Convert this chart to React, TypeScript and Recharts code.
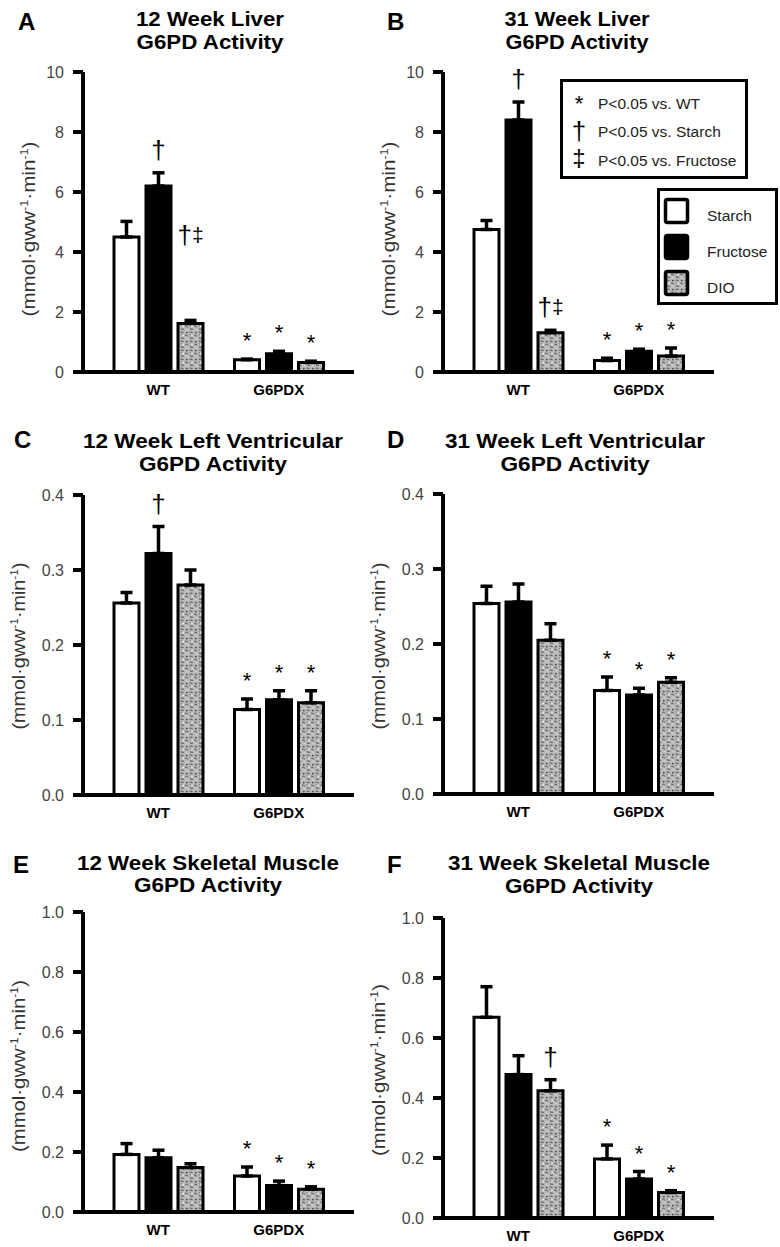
import React from 'react';
import { BarChart, Bar, XAxis, YAxis, ErrorBar, LabelList } from 'recharts';

const FONT = '"Liberation Sans", Arial, Helvetica, sans-serif';

const groups = ['WT', 'G6PDX'];
const seriesNames = ['Starch', 'Fructose', 'DIO'];

// A: 12 week liver
const liver12Starch = [4.5, 0.41];
const liver12StarchSem = [0.52, 0.02];
const liver12StarchSig = ['', '*'];
const liver12Fructose = [6.2, 0.61];
const liver12FructoseSem = [0.44, 0.08];
const liver12FructoseSig = ['†', '*'];
const liver12Dio = [1.62, 0.32];
const liver12DioSem = [0.1, 0.04];
const liver12DioSig = ['†‡', '*'];
const liver12DioSigAt = [3.8, null]; // this marker sits higher in the original

// B: 31 week liver
const liver31Starch = [4.75, 0.38];
const liver31StarchSem = [0.3, 0.08];
const liver31StarchSig = ['', '*'];
const liver31Fructose = [8.4, 0.69];
const liver31FructoseSem = [0.6, 0.07];
const liver31FructoseSig = ['†', '*'];
const liver31Dio = [1.31, 0.53];
const liver31DioSem = [0.08, 0.27];
const liver31DioSig = ['†‡', '*'];

// C: 12 week left ventricle
const lv12Starch = [0.256, 0.114];
const lv12StarchSem = [0.014, 0.014];
const lv12StarchSig = ['', '*'];
const lv12Fructose = [0.322, 0.127];
const lv12FructoseSem = [0.036, 0.012];
const lv12FructoseSig = ['†', '*'];
const lv12Dio = [0.28, 0.123];
const lv12DioSem = [0.02, 0.016];
const lv12DioSig = ['', '*'];

// D: 31 week left ventricle
const lv31Starch = [0.254, 0.138];
const lv31StarchSem = [0.023, 0.018];
const lv31Fructose = [0.256, 0.132];
const lv31FructoseSem = [0.024, 0.009];
const lv31Dio = [0.205, 0.149];
const lv31DioSem = [0.022, 0.006];
const lv31Sig = ['', '*'];

// E: 12 week skeletal muscle
const sk12Starch = [0.192, 0.12];
const sk12StarchSem = [0.036, 0.03];
const sk12Fructose = [0.181, 0.088];
const sk12FructoseSem = [0.025, 0.015];
const sk12Dio = [0.148, 0.076];
const sk12DioSem = [0.013, 0.008];
const sk12Sig = ['', '*'];

// F: 31 week skeletal muscle
const sk31Starch = [0.669, 0.197];
const sk31StarchSem = [0.102, 0.046];
const sk31StarchSig = ['', '*'];
const sk31Fructose = [0.478, 0.13];
const sk31FructoseSem = [0.063, 0.025];
const sk31FructoseSig = ['', '*'];
const sk31Dio = [0.424, 0.085];
const sk31DioSem = [0.037, 0.006];
const sk31DioSig = ['†', '*'];

const liverTicks = [0, 2, 4, 6, 8, 10];
const lvTicks = [0, 0.1, 0.2, 0.3, 0.4];
const skTicks = [0, 0.2, 0.4, 0.6, 0.8, 1.0];

const legendNotes = [
  { sym: '*', text: 'P<0.05 vs. WT' },
  { sym: '†', text: 'P<0.05 vs. Starch' },
  { sym: '‡', text: 'P<0.05 vs. Fructose' },
];

const panels = [
  {
    id: 'A', left: 0, top: 52, max: 10, ticks: liverTicks, digits: 0,
    starch: liver12Starch, starchSem: liver12StarchSem, starchSig: liver12StarchSig,
    fructose: liver12Fructose, fructoseSem: liver12FructoseSem, fructoseSig: liver12FructoseSig,
    dio: liver12Dio, dioSem: liver12DioSem, dioSig: liver12DioSig, dioAt: liver12DioSigAt,
    title: ['12 Week Liver', 'G6PD Activity'], lx: 18, ly: 30, cx: 210, ty: [26, 48.5], tw: [148, 147],
    labX: 29, labY: 229, labLen: 175,
  },
  {
    id: 'B', left: 360, top: 52, max: 10, ticks: liverTicks, digits: 0,
    starch: liver31Starch, starchSem: liver31StarchSem, starchSig: liver31StarchSig,
    fructose: liver31Fructose, fructoseSem: liver31FructoseSem, fructoseSig: liver31FructoseSig,
    dio: liver31Dio, dioSem: liver31DioSem, dioSig: liver31DioSig, dioAt: null,
    title: ['31 Week Liver', 'G6PD Activity'], lx: 387, ly: 30, cx: 577, ty: [26, 48.5], tw: [145, 143],
    labX: 389, labY: 229, labLen: 175,
  },
  {
    id: 'C', left: 0, top: 475, max: 0.4, ticks: lvTicks, digits: 1,
    starch: lv12Starch, starchSem: lv12StarchSem, starchSig: lv12StarchSig,
    fructose: lv12Fructose, fructoseSem: lv12FructoseSem, fructoseSig: lv12FructoseSig,
    dio: lv12Dio, dioSem: lv12DioSem, dioSig: lv12DioSig, dioAt: null,
    title: ['12 Week Left Ventricular', 'G6PD Activity'], lx: 14, ly: 448, cx: 213, ty: [448, 471], tw: [260, 148],
    labX: 19, labY: 646, labLen: 167,
  },
  {
    id: 'D', left: 360, top: 474, max: 0.4, ticks: lvTicks, digits: 1,
    starch: lv31Starch, starchSem: lv31StarchSem, starchSig: lv31Sig,
    fructose: lv31Fructose, fructoseSem: lv31FructoseSem, fructoseSig: lv31Sig,
    dio: lv31Dio, dioSem: lv31DioSem, dioSig: lv31Sig, dioAt: null,
    title: ['31 Week Left Ventricular', 'G6PD Activity'], lx: 387, ly: 448, cx: 575, ty: [448, 471], tw: [260, 149],
    labX: 379, labY: 646, labLen: 167,
  },
  {
    id: 'E', left: 0, top: 892, max: 1, ticks: skTicks, digits: 1,
    starch: sk12Starch, starchSem: sk12StarchSem, starchSig: sk12Sig,
    fructose: sk12Fructose, fructoseSem: sk12FructoseSem, fructoseSig: sk12Sig,
    dio: sk12Dio, dioSem: sk12DioSem, dioSig: sk12Sig, dioAt: null,
    title: ['12 Week Skeletal Muscle', 'G6PD Activity'], lx: 13, ly: 873, cx: 208, ty: [869.5, 892], tw: [262, 148],
    labX: 19, labY: 1066, labLen: 172,
  },
  {
    id: 'F', left: 360, top: 898, max: 1, ticks: skTicks, digits: 1,
    starch: sk31Starch, starchSem: sk31StarchSem, starchSig: sk31StarchSig,
    fructose: sk31Fructose, fructoseSem: sk31FructoseSem, fructoseSig: sk31FructoseSig,
    dio: sk31Dio, dioSem: sk31DioSem, dioSig: sk31DioSig, dioAt: null,
    title: ['31 Week Skeletal Muscle', 'G6PD Activity'], lx: 387, ly: 873, cx: 579, ty: [870, 893], tw: [262, 148],
    labX: 379, labY: 1070, labLen: 172,
  },
];

const rowOf = (d: any) => (d && d.payload) ? d.payload : d;

// significance marks sit above the error bar, positioned from the bar's own pixel box
const SigMark = (props: any) => {
  const vb = props.viewBox ?? props;
  if (!props.value) return null;
  const info = JSON.parse(props.value);
  if (!info.s) return null;
  const { x, y, width, height } = vb;
  const perUnit = height / info.m;
  const top = info.at != null ? y - (info.at - info.m) * perUnit : y - info.e * perUnit;
  const cx = x + width / 2;
  if (info.s === '*') {
    return <text x={cx} y={top - 11} textAnchor="middle" fontSize={22} fontFamily={FONT} fill="#000">*</text>;
  }
  if (info.s === '†') {
    return <text x={cx} y={top - 14} textAnchor="middle" fontSize={26} fontFamily={FONT} fill="#000">†</text>;
  }
  return (
    <text x={cx} y={top - 14} textAnchor="middle" fontFamily={FONT} fill="#000">
      <tspan fontSize={26}>†</tspan>
      <tspan fontSize={21} dy={-2}>‡</tspan>
    </text>
  );
};

const sigKey = (key: string) => (d: any) => {
  const r = rowOf(d);
  return JSON.stringify({ m: r[key], e: r[key + 'Sem'], s: r[key + 'Sig'], at: r[key + 'At'] ?? null });
};
const errKey = (key: string) => (d: any) => [0, rowOf(d)[key + 'Sem']];

const G6pdPanel = ({ p }: { p: any }) => {
  const rows = groups.map((g, i) => ({
    group: g,
    starch: p.starch[i], starchSem: p.starchSem[i], starchSig: p.starchSig[i],
    fructose: p.fructose[i], fructoseSem: p.fructoseSem[i], fructoseSig: p.fructoseSig[i],
    dio: p.dio[i], dioSem: p.dioSem[i], dioSig: p.dioSig[i], dioAt: p.dioAt ? p.dioAt[i] : null,
  }));

  const fills: Record<string, string> = { starch: '#ffffff', fructose: '#000000', dio: 'url(#dioTexture)' };

  return (
    <div style={{ position: 'absolute', left: p.left, top: p.top }}>
      <BarChart width={360} height={360} data={rows} margin={{ top: 20, right: 6, bottom: 0, left: 0 }} barSize={25} barGap={7}>
        <XAxis
          dataKey="group"
          padding={{ left: 15, right: 15 }}
          axisLine={{ stroke: '#000', strokeWidth: 4 }}
          tickLine={false}
          tickSize={0}
          tickMargin={12}
          height={40}
          tick={{ fill: '#000', fontSize: 15, fontWeight: 'bold', fontFamily: FONT }}
        />
        <YAxis
          type="number"
          domain={[0, p.max]}
          ticks={p.ticks}
          interval={0}
          width={83}
          tickSize={10}
          tickMargin={9}
          axisLine={{ stroke: '#000', strokeWidth: 4 }}
          tickLine={{ stroke: '#000', strokeWidth: 4 }}
          tick={{ fill: '#444', fontSize: 16, fontFamily: FONT }}
          tickFormatter={(v: number) => v.toFixed(p.digits)}
        />
        {['starch', 'fructose', 'dio'].map((k, i) => (
          <Bar key={k} dataKey={k} name={seriesNames[i]} fill={fills[k]} stroke="#000" strokeWidth={3} isAnimationActive={false}>
            <ErrorBar dataKey={errKey(k)} direction="y" width={6} stroke="#000" strokeWidth={3.5} isAnimationActive={false} />
            <LabelList dataKey={sigKey(k)} content={SigMark} />
          </Bar>
        ))}
      </BarChart>
    </div>
  );
};

const Overlay = () => (
  <svg width={780} height={1247} style={{ position: 'absolute', left: 0, top: 0, pointerEvents: 'none' }} fontFamily={FONT}>
    {panels.map((p) => (
      <g key={p.id}>
        <text x={p.lx} y={p.ly} fontSize={24} fontWeight="bold" fill="#000">{p.id}</text>
        {p.title.map((t: string, i: number) => (
          <text key={i} x={p.cx} y={p.ty[i]} textAnchor="middle" fontSize={21} fontWeight="bold" fill="#000"
            textLength={p.tw[i]} lengthAdjust="spacingAndGlyphs">{t}</text>
        ))}
        <text transform={`translate(${p.labX},${p.labY}) rotate(-90)`} x={0} y={6} textAnchor="middle" fontSize={18} fill="#333"
          textLength={p.labLen} lengthAdjust="spacingAndGlyphs">
          <tspan>(mmol·gww</tspan>
          <tspan fontSize={11} dy={-7}>-1</tspan>
          <tspan dy={7}>·min</tspan>
          <tspan fontSize={11} dy={-7}>-1</tspan>
          <tspan dy={7}>)</tspan>
        </text>
      </g>
    ))}

    {/* significance key */}
    <rect x={561.5} y={80.5} width={185} height={97} fill="#fff" stroke="#000" strokeWidth={3} />
    {legendNotes.map((n, i) => (
      <g key={n.text}>
        <text x={579} y={[111, 140, 166][i]} textAnchor="middle" fontSize={[22, 26, 24][i]} fill="#000">{n.sym}</text>
        <text x={598} y={108.5 + i * 28.5} fontSize={15.5} fill="#222">{n.text}</text>
      </g>
    ))}

    {/* diet key */}
    <rect x={658.5} y={189.5} width={118} height={114} fill="#fff" stroke="#000" strokeWidth={3} />
    {seriesNames.map((s, i) => (
      <g key={s}>
        <rect x={665.5} y={199.5 + i * 36} width={22} height={23} rx={2}
          fill={['#fff', '#000', 'url(#dioTexture)'][i]} stroke="#000" strokeWidth={3.5} />
        <text x={707} y={220.5 + i * 36} fontSize={15.5} fill="#222">{s}</text>
      </g>
    ))}
  </svg>
);

export default function App() {
  return (
    <div style={{ position: 'absolute', left: 0, top: 0, width: 780, height: 1247, background: '#fff', overflow: 'hidden' }}>
      <svg width={0} height={0} style={{ position: 'absolute' }}>
        <defs>
          <pattern id="dioTexture" width="9" height="9" patternUnits="userSpaceOnUse">
            <rect width="9" height="9" fill="#b9b9b9" />
            <path d="M0.5 1.5 Q2 0.5 3.5 2 M5 4.5 Q6.5 3.5 8 5.5 M1 6.5 Q2.5 8 4 7" stroke="#6a6a6a" strokeWidth="1.1" fill="none" />
            <circle cx="6.8" cy="1.6" r="0.9" fill="#444" />
            <circle cx="3" cy="4.4" r="1" fill="#e6e6e6" />
            <circle cx="7.2" cy="7.6" r="0.8" fill="#dedede" />
            <circle cx="1.2" cy="3.8" r="0.6" fill="#555" />
          </pattern>
        </defs>
      </svg>
      {panels.map((p) => (
        <G6pdPanel key={p.id} p={p} />
      ))}
      <Overlay />
    </div>
  );
}
